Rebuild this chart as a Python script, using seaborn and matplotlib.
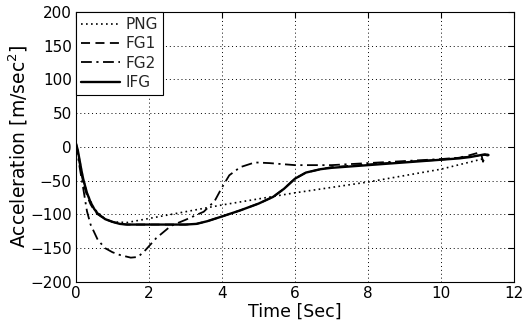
import numpy as np
import pandas as pd
import matplotlib
matplotlib.use("Agg")
import matplotlib.pyplot as plt
import seaborn as sns

# ---- data ----
t_png = [0, 0.1, 0.2, 0.3, 0.5, 0.8, 1.0, 1.4, 4.0, 6.0, 8.0, 10.0, 11.2]
png = [5, -20, -48, -68, -92, -107, -111, -112, -86, -68, -52, -33, -17]

t_fg1 = [0, 0.05, 0.1, 0.15, 0.2, 0.3, 0.4, 0.5, 0.6, 0.8, 1.0, 1.2, 1.4, 2.0, 2.5, 3.0, 3.3,
         3.6, 4.0, 4.5, 5.0, 5.4, 5.7, 6.0, 6.3, 6.7, 7.0, 8.0, 9.0, 10.0, 10.5, 10.8, 11.0,
         11.1, 11.15, 11.2, 11.3]
fg1 = [5, -8, -25, -40, -53, -72, -85, -94, -100, -107, -111, -114, -115, -115, -115, -115, -114,
       -110, -103, -94, -84, -74, -62, -47, -38, -33, -30, -26, -22, -19, -16, -12, -9,
       -10, -22, -14, -11]

t_fg2 = [0, 0.05, 0.1, 0.2, 0.3, 0.4, 0.6, 0.8, 1.0, 1.2, 1.5, 1.7, 1.9, 2.2, 2.6, 3.0, 3.5,
         3.8, 4.0, 4.2, 4.5, 4.9, 5.3, 6.0, 7.0, 8.0, 9.0, 10.0, 10.5, 11.0, 11.2, 11.3]
fg2 = [5, -12, -30, -62, -95, -115, -138, -150, -156, -160, -164, -163, -153, -135, -117, -108,
       -96, -80, -60, -42, -30, -23, -24, -27, -27, -24, -21, -18, -16, -13, -12, -13]

t_ifg = [0, 0.05, 0.1, 0.15, 0.2, 0.3, 0.4, 0.5, 0.6, 0.8, 1.0, 1.2, 1.4, 2.0, 2.5, 3.0, 3.3,
         3.6, 4.0, 4.5, 5.0, 5.4, 5.7, 6.0, 6.3, 6.7, 7.0, 8.0, 9.0, 10.0, 10.5, 10.8, 11.0,
         11.1, 11.2, 11.3]
ifg = [5, -5, -20, -35, -48, -68, -82, -92, -99, -107, -111, -114, -115, -115, -115, -115, -114,
       -110, -103, -94, -84, -74, -62, -47, -38, -33, -31, -27, -23, -19, -17, -15, -13,
       -12, -11, -12]

labels = ["PNG", "FG1", "FG2", "IFG"]
x_ticks = [0, 2, 4, 6, 8, 10, 12]
y_ticks = [-200, -150, -100, -50, 0, 50, 100, 150, 200]

sns.set_theme(style="white")
plt.rcParams["font.family"] = ["DejaVu Sans"]
plt.rcParams["mathtext.fontset"] = "dejavusans"

fig = plt.figure(figsize=(5.24, 3.29), dpi=100)
ax = fig.add_axes([0.145, 0.143, 0.836, 0.821])

series = [(t_png, png, (0, (1, 2)), 1.2),
          (t_fg1, fg1, (0, (5, 3)), 1.3),
          (t_fg2, fg2, (0, (6, 2.5, 1.2, 2.5)), 1.3),
          (t_ifg, ifg, "-", 1.7)]
for (t, v, ls, lw), lab in zip(series, labels):
    sns.lineplot(x=t, y=v, ax=ax, color="black", linestyle=ls, linewidth=lw,
                 label=lab, sort=False, estimator=None)

ax.set_xlim(0, 12)
ax.set_ylim(-200, 200)
ax.set_xticks(x_ticks)
ax.set_yticks(y_ticks)
ax.grid(True, color="black", linestyle=(0, (1, 3)), linewidth=0.7)
ax.tick_params(direction="in", length=4, width=0.8, top=True, right=True,
               labelsize=11, colors="black", pad=3)
for s in ax.spines.values():
    s.set_color("black")
    s.set_linewidth(0.8)
ax.set_xlabel("Time [Sec]", fontsize=12.5, color="black", labelpad=1)
ax.set_ylabel("Acceleration [m/sec$^2$]", fontsize=13.5, color="black", labelpad=0)

leg = ax.legend(loc="upper left", fontsize=11, frameon=True, fancybox=False,
                edgecolor="black", framealpha=1, borderaxespad=0, handlelength=2.5,
                handletextpad=0.4, labelspacing=0.28, borderpad=0.35)
leg.get_frame().set_linewidth(0.8)

fig.savefig("out.png", dpi=100)
